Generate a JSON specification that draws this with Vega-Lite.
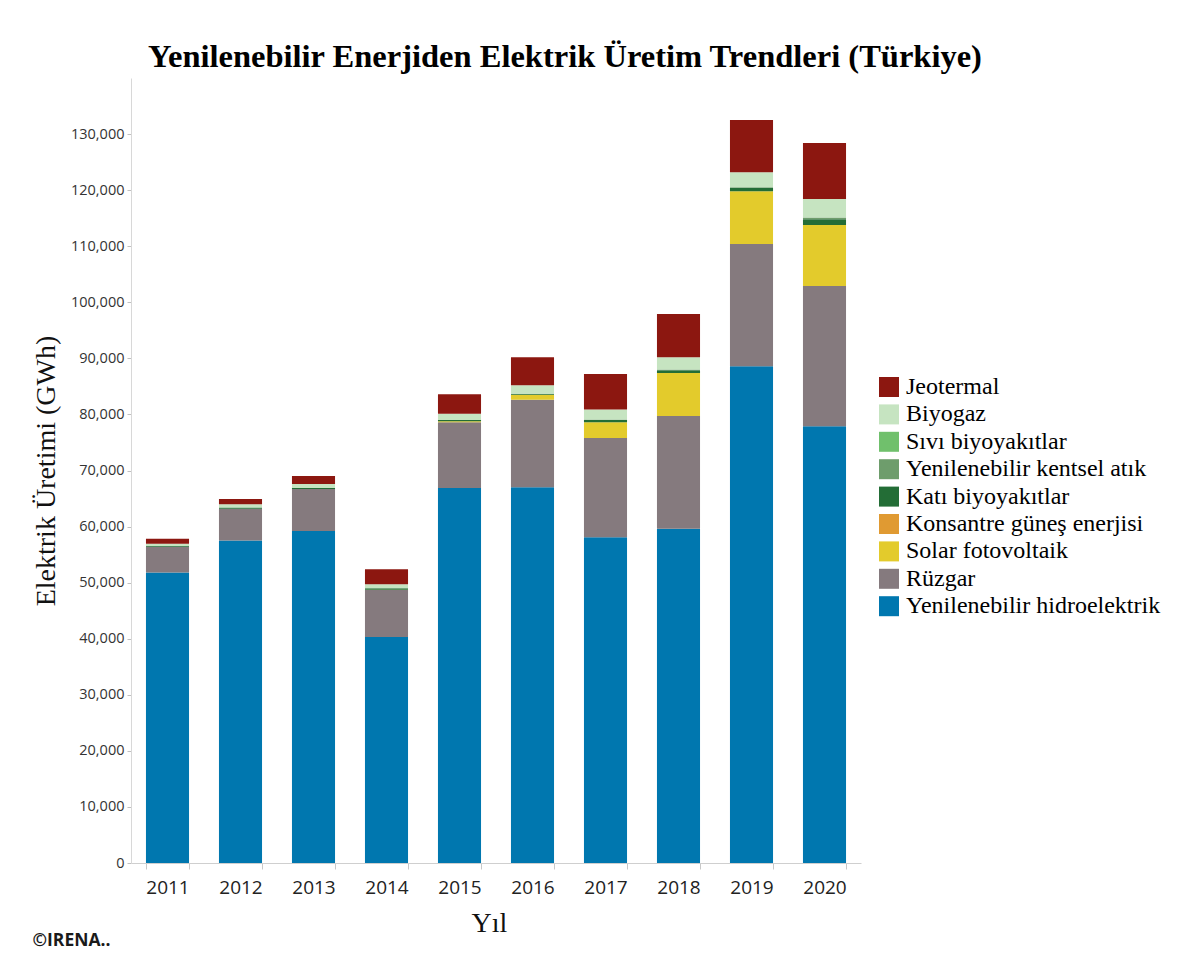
{
  "$schema": "https://vega.github.io/schema/vega-lite/v6.json",
  "background": "white",
  "padding": {"left": 32, "top": 40, "right": 5, "bottom": 5},
  "title": {
    "text": "Yenilenebilir Enerjiden Elektrik Üretim Trendleri (Türkiye)",
    "font": "Liberation Serif",
    "fontSize": 32.5,
    "fontWeight": "bold",
    "color": "#000000",
    "anchor": "middle",
    "frame": "group",
    "dx": 69,
    "offset": 5
  },
  "vconcat": [
    {
      "width": 730,
      "height": 785,
      "title": {
        "text": "©IRENA..",
        "orient": "bottom",
        "anchor": "start",
        "frame": "bounds",
        "font": "Open Sans",
        "fontSize": 17.5,
        "fontWeight": "bold",
        "color": "#1a1a1a",
        "offset": -5
      },
      "data": {
        "values": [
          {"year": "2011", "type": "Yenilenebilir hidroelektrik", "value": 51800},
          {"year": "2011", "type": "Rüzgar", "value": 4600},
          {"year": "2011", "type": "Katı biyoyakıtlar", "value": 150},
          {"year": "2011", "type": "Biyogaz", "value": 400},
          {"year": "2011", "type": "Jeotermal", "value": 900},
          {"year": "2012", "type": "Yenilenebilir hidroelektrik", "value": 57500},
          {"year": "2012", "type": "Rüzgar", "value": 5700},
          {"year": "2012", "type": "Katı biyoyakıtlar", "value": 200},
          {"year": "2012", "type": "Biyogaz", "value": 600},
          {"year": "2012", "type": "Jeotermal", "value": 900},
          {"year": "2013", "type": "Yenilenebilir hidroelektrik", "value": 59200},
          {"year": "2013", "type": "Rüzgar", "value": 7500},
          {"year": "2013", "type": "Katı biyoyakıtlar", "value": 200},
          {"year": "2013", "type": "Biyogaz", "value": 700},
          {"year": "2013", "type": "Jeotermal", "value": 1400},
          {"year": "2014", "type": "Yenilenebilir hidroelektrik", "value": 40300},
          {"year": "2014", "type": "Rüzgar", "value": 8400},
          {"year": "2014", "type": "Solar fotovoltaik", "value": 50},
          {"year": "2014", "type": "Katı biyoyakıtlar", "value": 250},
          {"year": "2014", "type": "Biyogaz", "value": 700},
          {"year": "2014", "type": "Jeotermal", "value": 2700},
          {"year": "2015", "type": "Yenilenebilir hidroelektrik", "value": 66900},
          {"year": "2015", "type": "Rüzgar", "value": 11700},
          {"year": "2015", "type": "Solar fotovoltaik", "value": 200},
          {"year": "2015", "type": "Katı biyoyakıtlar", "value": 200},
          {"year": "2015", "type": "Biyogaz", "value": 1100},
          {"year": "2015", "type": "Jeotermal", "value": 3500},
          {"year": "2016", "type": "Yenilenebilir hidroelektrik", "value": 67000},
          {"year": "2016", "type": "Rüzgar", "value": 15600},
          {"year": "2016", "type": "Solar fotovoltaik", "value": 900},
          {"year": "2016", "type": "Katı biyoyakıtlar", "value": 200},
          {"year": "2016", "type": "Biyogaz", "value": 1500},
          {"year": "2016", "type": "Jeotermal", "value": 5000},
          {"year": "2017", "type": "Yenilenebilir hidroelektrik", "value": 58100},
          {"year": "2017", "type": "Rüzgar", "value": 17700},
          {"year": "2017", "type": "Solar fotovoltaik", "value": 2800},
          {"year": "2017", "type": "Katı biyoyakıtlar", "value": 400},
          {"year": "2017", "type": "Yenilenebilir kentsel atık", "value": 100},
          {"year": "2017", "type": "Biyogaz", "value": 1800},
          {"year": "2017", "type": "Jeotermal", "value": 6300},
          {"year": "2018", "type": "Yenilenebilir hidroelektrik", "value": 59600},
          {"year": "2018", "type": "Rüzgar", "value": 20100},
          {"year": "2018", "type": "Solar fotovoltaik", "value": 7700},
          {"year": "2018", "type": "Katı biyoyakıtlar", "value": 500},
          {"year": "2018", "type": "Yenilenebilir kentsel atık", "value": 100},
          {"year": "2018", "type": "Biyogaz", "value": 2200},
          {"year": "2018", "type": "Jeotermal", "value": 7700},
          {"year": "2019", "type": "Yenilenebilir hidroelektrik", "value": 88600},
          {"year": "2019", "type": "Rüzgar", "value": 21800},
          {"year": "2019", "type": "Solar fotovoltaik", "value": 9400},
          {"year": "2019", "type": "Katı biyoyakıtlar", "value": 600},
          {"year": "2019", "type": "Yenilenebilir kentsel atık", "value": 100},
          {"year": "2019", "type": "Biyogaz", "value": 2700},
          {"year": "2019", "type": "Jeotermal", "value": 9300},
          {"year": "2020", "type": "Yenilenebilir hidroelektrik", "value": 77900},
          {"year": "2020", "type": "Rüzgar", "value": 25000},
          {"year": "2020", "type": "Solar fotovoltaik", "value": 10900},
          {"year": "2020", "type": "Katı biyoyakıtlar", "value": 1000},
          {"year": "2020", "type": "Yenilenebilir kentsel atık", "value": 300},
          {"year": "2020", "type": "Biyogaz", "value": 3300},
          {"year": "2020", "type": "Jeotermal", "value": 10000}
        ]
      },
      "transform": [
        {"calculate": "indexof(['Yenilenebilir hidroelektrik', 'Rüzgar', 'Solar fotovoltaik', 'Konsantre güneş enerjisi', 'Katı biyoyakıtlar', 'Yenilenebilir kentsel atık', 'Sıvı biyoyakıtlar', 'Biyogaz', 'Jeotermal'], datum.type)", "as": "stackRank"}
      ],
      "mark": {"type": "bar"},
      "encoding": {
        "x": {
          "field": "year",
          "type": "ordinal",
          "title": "Yıl",
          "scale": {"paddingInner": 0.41, "paddingOuter": 0.205},
          "axis": {
            "labelAngle": 0,
            "tickBand": "extent",
            "tickSize": 6,
            "tickColor": "#c8c8c8",
            "domainColor": "#cfcfcf",
            "labelFont": "Open Sans",
            "labelFontSize": 19,
            "labelColor": "#222222",
            "labelPadding": 9,
            "titleFont": "Liberation Serif",
            "titleFontSize": 28,
            "titleFontWeight": "normal",
            "titleColor": "#111111",
            "titlePadding": 12,
            "titleX": 358
          }
        },
        "y": {
          "field": "value",
          "type": "quantitative",
          "stack": "zero",
          "title": "Elektrik Üretimi (GWh)",
          "scale": {"domain": [0, 140000]},
          "axis": {
            "values": [0, 10000, 20000, 30000, 40000, 50000, 60000, 70000, 80000, 90000, 100000, 110000, 120000, 130000],
            "format": ",.0f",
            "grid": false,
            "labelFont": "Open Sans",
            "labelFontSize": 14.5,
            "labelColor": "#333333",
            "labelPadding": 3,
            "tickSize": 4,
            "tickColor": "#c0c0c0",
            "domainColor": "#d8d8d8",
            "titleFont": "Liberation Serif",
            "titleFontSize": 28,
            "titleFontWeight": "normal",
            "titleColor": "#111111",
            "titlePadding": 10
          }
        },
        "order": {"field": "stackRank", "type": "quantitative", "sort": "ascending"},
        "color": {
          "field": "type",
          "type": "nominal",
          "scale": {
            "domain": ["Yenilenebilir hidroelektrik", "Rüzgar", "Solar fotovoltaik", "Konsantre güneş enerjisi", "Katı biyoyakıtlar", "Yenilenebilir kentsel atık", "Sıvı biyoyakıtlar", "Biyogaz", "Jeotermal"],
            "range": ["#0077af", "#857a7e", "#e3cb2c", "#e09a32", "#236d36", "#6e9d6c", "#70c06c", "#c6e4c1", "#8c1710"]
          },
          "legend": {
            "values": ["Jeotermal", "Biyogaz", "Sıvı biyoyakıtlar", "Yenilenebilir kentsel atık", "Katı biyoyakıtlar", "Konsantre güneş enerjisi", "Solar fotovoltaik", "Rüzgar", "Yenilenebilir hidroelektrik"],
            "title": null,
            "orient": "none",
            "legendX": 746,
            "legendY": 297,
            "symbolType": "square",
            "symbolSize": 400,
            "symbolStrokeWidth": 0,
            "symbolOpacity": 1,
            "labelFont": "Liberation Serif",
            "labelFontSize": 24,
            "labelColor": "#000000",
            "labelOffset": 5,
            "labelLimit": 400,
            "rowPadding": 3.4
          }
        }
      }
    }
  ],
  "config": {
    "view": {"stroke": null},
    "axis": {"grid": false}
  }
}
